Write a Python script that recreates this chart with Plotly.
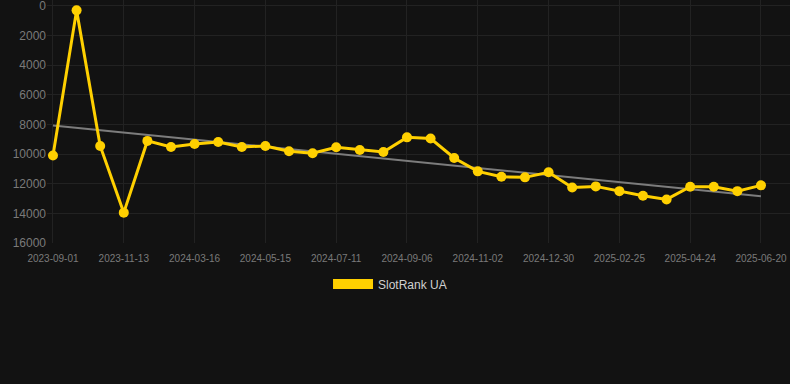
import numpy as np
import plotly.graph_objects as go

dates = [
    "2023-09-01", "2023-09-25", "2023-10-19", "2023-11-13", "2024-01-04", "2024-02-10",
    "2024-03-16", "2024-04-05", "2024-04-25", "2024-05-15", "2024-06-03", "2024-06-22",
    "2024-07-11", "2024-07-30", "2024-08-18", "2024-09-06", "2024-09-25", "2024-10-14",
    "2024-11-02", "2024-11-21", "2024-12-10", "2024-12-30", "2025-01-18", "2025-02-06",
    "2025-02-25", "2025-03-16", "2025-04-04", "2025-04-24", "2025-05-13", "2025-06-01",
    "2025-06-20",
]
rank = [
    10100, 300, 9450, 13950, 9110, 9520, 9315, 9180, 9520, 9450, 9810, 9945,
    9540, 9720, 9855, 8870, 8950, 10260, 11165, 11525, 11570, 11230, 12250, 12180,
    12500, 12815, 13060, 12200, 12200, 12500, 12110,
]
series_name = "SlotRank UA"
y_ticks = [0, 2000, 4000, 6000, 8000, 10000, 12000, 14000, 16000]

idx = np.arange(len(rank))
slope, intercept = np.polyfit(idx, rank, 1)
trend = slope * idx + intercept

GOLD = "#FFD000"
BG = "#121212"
GRID = "#222222"
TICK = "#7a7a7a"

fig = go.Figure()
fig.add_trace(go.Scatter(
    x=dates, y=trend, mode="lines",
    line=dict(color="#7c7c7c", width=2),
    showlegend=False, hoverinfo="skip",
))
fig.add_trace(go.Scatter(
    x=dates, y=rank, mode="lines+markers",
    line=dict(color=GOLD, width=3),
    marker=dict(color=GOLD, size=10),
    showlegend=False, cliponaxis=False, name=series_name,
))
fig.add_trace(go.Scatter(
    x=[None], y=[None], mode="lines",
    line=dict(color=GOLD, width=10),
    name=series_name, showlegend=True,
))

fig.update_layout(
    width=790, height=384,
    paper_bgcolor=BG, plot_bgcolor=BG,
    margin=dict(l=47, r=0, t=0, b=141),
    font=dict(family="Liberation Sans, Arial, sans-serif", color=TICK),
    legend=dict(
        orientation="h", xref="container", x=0.4937, xanchor="center",
        yref="container", y=100 / 384, yanchor="middle",
        font=dict(size=12, color="#d0d0d0"), itemwidth=40,
        bgcolor="rgba(0,0,0,0)",
    ),
    xaxis=dict(
        type="category", range=[-0.254, 31.23],
        tickmode="linear", tick0=0, dtick=3,
        showgrid=True, gridcolor=GRID, gridwidth=1,
        zeroline=False, showline=False, ticks="",
        ticklabelstandoff=8,
        tickfont=dict(size=10, color=TICK),
    ),
    yaxis=dict(
        range=[16000, -400], tickvals=y_ticks, tickformat="d",
        showgrid=True, gridcolor=GRID, gridwidth=1,
        zeroline=False, showline=False, ticks="",
        ticklabeloverflow="allow",
        tickfont=dict(size=12, color=TICK),
    ),
)

fig.write_html(
    "out.html",
    config={"displayModeBar": False},
    post_script="document.body.style.margin='0';document.body.style.background='#121212';",
)
